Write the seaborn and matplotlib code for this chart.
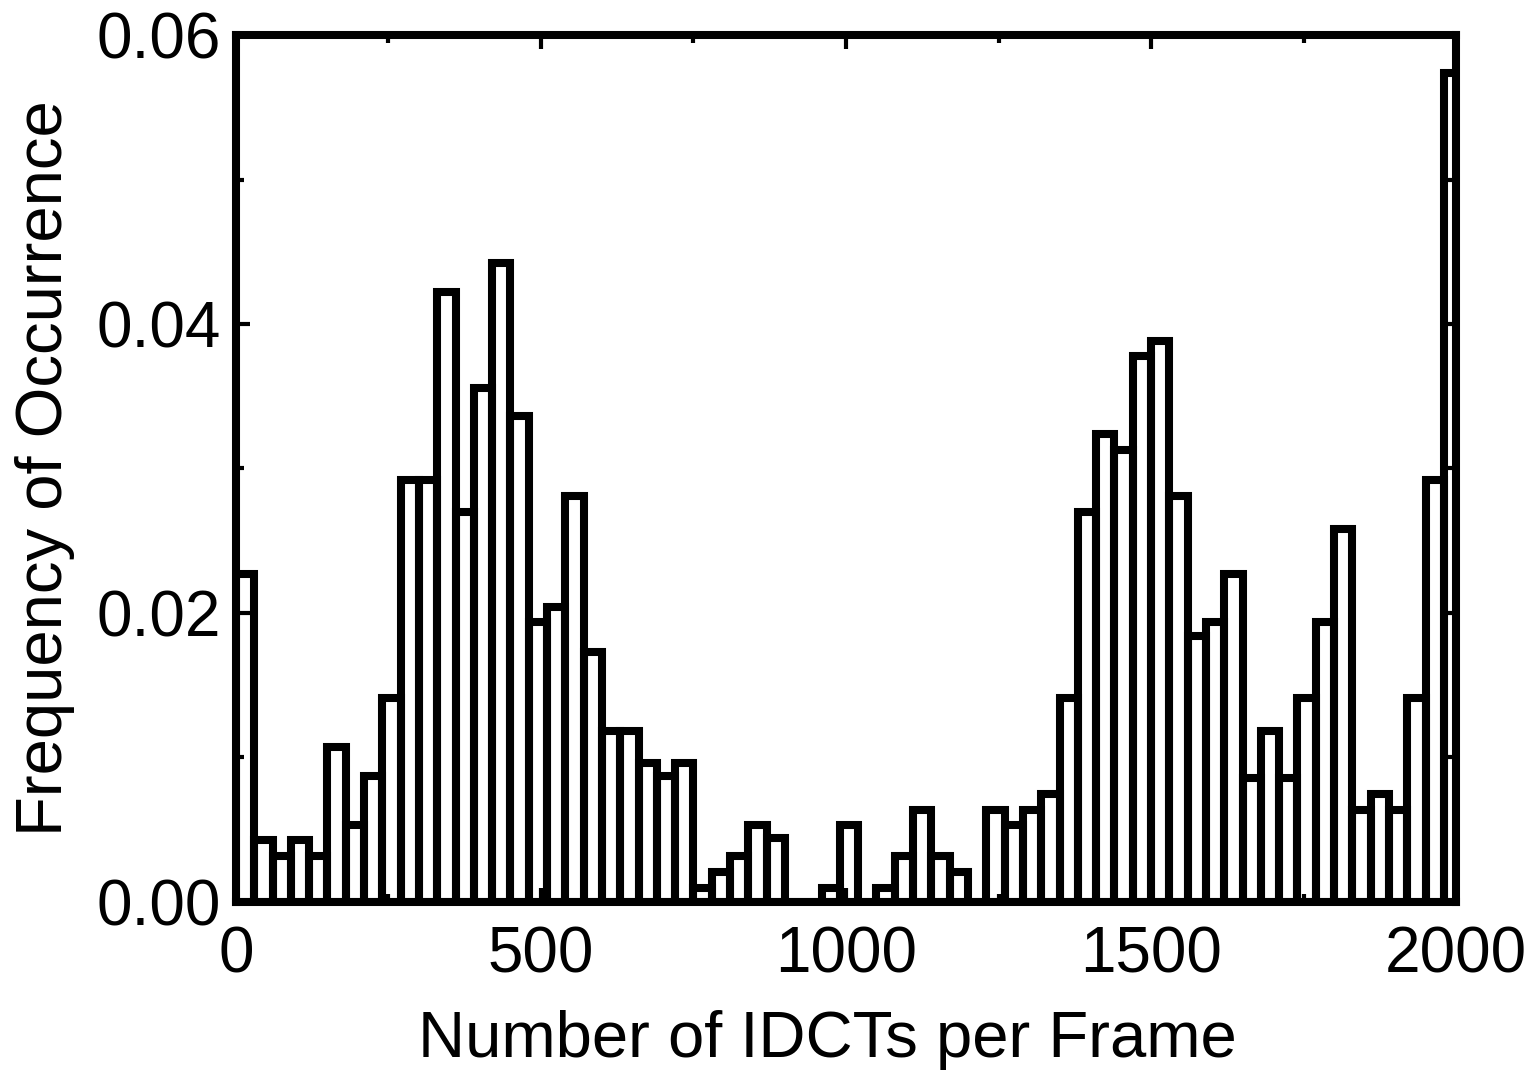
import numpy as np
import pandas as pd
import matplotlib
matplotlib.use("Agg")
import matplotlib.pyplot as plt
import seaborn as sns
from matplotlib.ticker import MultipleLocator, FormatStrFormatter

# ---- data ----
bin_width = 30          # IDCTs per bin
bin_start = 0
freq = [
    0.0227, 0.0043, 0.0032, 0.0043, 0.0032, 0.0107, 0.0053, 0.0087, 0.0141, 0.0292,
    0.0292, 0.0422, 0.0270, 0.0356, 0.0442, 0.0336, 0.0194, 0.0204, 0.0281, 0.0173,
    0.0118, 0.0118, 0.0096, 0.0087, 0.0096, 0.0010, 0.0021, 0.0032, 0.0053, 0.0044,
    0.0000, 0.0000, 0.0010, 0.0053, 0.0000, 0.0010, 0.0032, 0.0064, 0.0032, 0.0021,
    0.0000, 0.0064, 0.0053, 0.0064, 0.0075, 0.0141, 0.0270, 0.0324, 0.0313, 0.0378,
    0.0388, 0.0281, 0.0184, 0.0194, 0.0227, 0.0086, 0.0118, 0.0086, 0.0141, 0.0194,
    0.0258, 0.0064, 0.0075, 0.0064, 0.0141, 0.0292, 0.0574,
]
x_ticks = [0, 500, 1000, 1500, 2000]
y_ticks = [0.00, 0.02, 0.04, 0.06]
x_label = "Number of IDCTs per Frame"
y_label = "Frequency of Occurrence"

n_bins = len(freq)
bin_end = bin_start + bin_width * n_bins
centers = bin_start + bin_width * (np.arange(n_bins) + 0.5)
df = pd.DataFrame({"idcts": centers, "freq": freq})

# ---- style ----
sns.set_style("ticks")
plt.rcParams["font.family"] = ["Liberation Sans", "DejaVu Sans"]
plt.rcParams["text.color"] = "black"
plt.rcParams["axes.labelcolor"] = "black"
plt.rcParams["xtick.color"] = "black"
plt.rcParams["ytick.color"] = "black"

LW = 5.8
fig = plt.figure(figsize=(15.29, 10.77), dpi=100)
ax = fig.add_axes([0.1543, 0.1625, 0.7980, 0.8050])

sns.histplot(data=df, x="idcts", weights="freq", binwidth=bin_width,
             binrange=(bin_start, bin_end), stat="count",
             fill=False, element="bars", color="black", linewidth=LW, ax=ax)

ax.set_xlim(0, 2000)
ax.set_ylim(0, 0.06)
ax.set_xticks(x_ticks)
ax.set_yticks(y_ticks)
ax.xaxis.set_minor_locator(MultipleLocator(250))
ax.yaxis.set_minor_locator(MultipleLocator(0.01))
ax.yaxis.set_major_formatter(FormatStrFormatter("%.2f"))

for sp in ax.spines.values():
    sp.set_visible(True)
    sp.set_linewidth(LW)
    sp.set_color("black")
    sp.set_zorder(5)

ax.tick_params(which="both", direction="in", top=True, right=True,
               bottom=True, left=True, color="black", labelcolor="black",
               width=3, labelsize=46)
ax.tick_params(axis="x", which="both", pad=17)
ax.tick_params(axis="y", which="both", pad=11)
ax.tick_params(which="major", length=10)
ax.tick_params(which="minor", length=6)

ax.set_xlabel(x_label, fontsize=47, color="black")
ax.set_ylabel(y_label, fontsize=47, color="black")
ax.xaxis.set_label_coords(0.485, -0.125)
ax.yaxis.set_label_coords(-0.132, 0.5)

fig.savefig("out.png", dpi=100, facecolor="white")
